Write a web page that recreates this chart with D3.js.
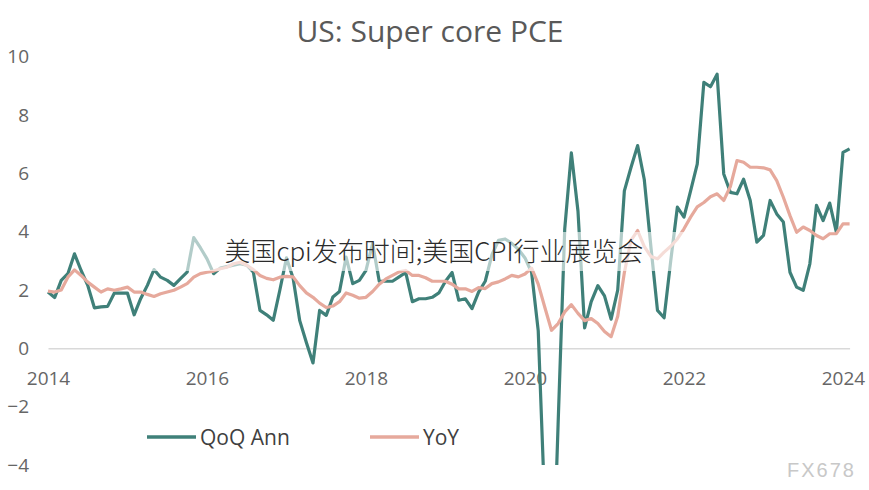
<!DOCTYPE html>
<html><head><meta charset="utf-8">
<script src="https://cdn.jsdelivr.net/npm/d3@7"></script>
<style>
html,body{margin:0;padding:0;background:#fff;}
svg{display:block;}
</style></head>
<body>
<svg id="chart" width="869" height="490"></svg>
<script>
// Monthly data, Jan 2014 .. Feb 2024
const startYear = 2014;
const qoqAnn = [
 1.93,1.74,2.33,2.56,3.24,2.67,2.16,1.39,1.42,1.44,1.89,1.89,
 1.89,1.15,1.71,2.16,2.70,2.44,2.33,2.16,2.39,2.61,3.80,3.45,
 3.07,2.56,2.75,2.80,2.85,2.90,2.85,2.61,1.30,1.15,0.96,2.00,
 3.10,2.40,0.95,0.20,-0.50,1.30,1.13,1.76,1.95,3.13,2.22,2.33,
 2.67,3.60,2.30,2.30,2.30,2.45,2.60,1.60,1.70,1.70,1.75,1.90,
 2.30,2.60,1.65,1.70,1.36,1.93,2.30,3.20,3.70,3.75,3.60,3.40,
 3.10,2.60,0.60,-5.50,-9.50,-2.60,4.10,6.70,4.70,0.70,1.60,2.15,
 1.80,1.00,2.00,5.40,6.20,6.95,5.80,3.50,1.30,1.05,3.00,4.84,
 4.50,5.40,6.32,9.12,8.97,9.40,5.98,5.35,5.30,5.80,5.07,3.64,
 3.87,5.07,4.61,4.33,2.61,2.10,1.99,2.90,4.90,4.38,4.98,3.98,
 6.72,6.84
];
const yoy = [
 1.96,1.93,2.00,2.44,2.69,2.50,2.27,2.10,1.93,2.04,1.99,2.04,
 2.10,1.93,1.93,1.85,1.78,1.87,1.93,1.99,2.10,2.22,2.44,2.56,
 2.61,2.65,2.73,2.78,2.90,2.95,2.85,2.70,2.50,2.40,2.35,2.44,
 2.47,2.45,2.15,1.90,1.75,1.55,1.40,1.45,1.60,1.90,1.82,1.72,
 1.75,1.95,2.20,2.38,2.50,2.62,2.67,2.50,2.50,2.42,2.30,2.30,
 2.30,2.20,2.04,2.04,1.95,2.08,2.05,2.22,2.28,2.38,2.50,2.45,
 2.55,2.75,2.20,1.40,0.62,0.85,1.25,1.50,1.20,0.95,1.02,0.85,
 0.58,0.40,1.10,2.60,3.70,4.04,3.50,3.15,3.07,3.30,3.50,3.75,
 4.10,4.50,4.85,5.00,5.20,5.30,5.07,5.55,6.44,6.38,6.21,6.21,
 6.19,6.12,5.75,5.18,4.55,3.98,4.16,4.04,3.87,3.76,3.93,3.93,
 4.27,4.27
];
const xTickYears = ["2014","2016","2018","2020","2022","2024"];
const yTickValues = [-4,-2,0,2,4,6,8,10];
const seriesNames = ["QoQ Ann","YoY"];
const titleText = "US: Super core PCE";
const watermarkText = "美国cpi发布时间;美国CPI行业展览会";
const brandText = "FX678";

const colors = {qoq:"#3f8079", yoy:"#e6a99c"};

const svg = d3.select("#chart");
const x = d3.scaleLinear().domain([0, qoqAnn.length - 1]).range([48, 849.6]);
const y = d3.scaleLinear().domain([-4, 10]).range([465, 56.7]);

svg.append("defs").append("clipPath").attr("id","plotclip")
  .append("rect").attr("x", 40).attr("y", y(10) - 5).attr("width", 820).attr("height", y(-4) - y(10) + 5);

// Title
svg.append("text").attr("x", 430).attr("y", 42).attr("text-anchor","middle")
  .attr("font-family","'Open Sans', sans-serif").attr("font-size", 30).attr("fill","#595959")
  .text(titleText);

// Y axis (labels only)
const yAxis = svg.append("g").attr("transform","translate(29,0)")
  .call(d3.axisLeft(y).tickValues(yTickValues).tickSize(0).tickPadding(0).tickFormat(d3.format("d")));
yAxis.select(".domain").remove();
yAxis.selectAll("text").attr("font-family","'Open Sans', sans-serif").attr("font-size", 19).attr("fill","#666");

// X axis at y=0
const xTickVals = xTickYears.map(d => (+d - startYear) * 12);
const xAxis = svg.append("g").attr("transform", `translate(0,${y(0)})`)
  .call(d3.axisBottom(x).tickValues(xTickVals).tickSize(0).tickSizeOuter(0).tickPadding(23)
        .tickFormat((d,i) => xTickYears[i]));
xAxis.select(".domain").attr("stroke","#d9d9d9").attr("stroke-width",1.5);
xAxis.selectAll("text").attr("font-family","'Open Sans', sans-serif").attr("font-size", 19).attr("fill","#666");

// Lines
const line = d3.line().x((d,i) => x(i)).y(d => y(d));
const plot = svg.append("g").attr("clip-path","url(#plotclip)");
plot.append("path").datum(qoqAnn).attr("d", line).attr("fill","none")
  .attr("stroke", colors.qoq).attr("stroke-width", 3.2).attr("stroke-linejoin","round");
plot.append("path").datum(yoy).attr("d", line).attr("fill","none")
  .attr("stroke", colors.yoy).attr("stroke-width", 3.2).attr("stroke-linejoin","round");

// Legend
const legend = [
  {name: seriesNames[0], color: colors.qoq, x0: 147},
  {name: seriesNames[1], color: colors.yoy, x0: 370}
];
const lg = svg.append("g");
legend.forEach(l => {
  lg.append("line").attr("x1", l.x0).attr("x2", l.x0 + 49).attr("y1", 437).attr("y2", 437)
    .attr("stroke", l.color).attr("stroke-width", 3.5);
  lg.append("text").attr("x", l.x0 + 53).attr("y", 444.5)
    .attr("font-family","'Open Sans', sans-serif").attr("font-size", 21).attr("fill","#404040")
    .text(l.name);
});

// Watermark overlay band + text
svg.append("rect").attr("x", 150).attr("y", 232).attr("width", 535).attr("height", 39)
  .attr("fill","#fff").attr("opacity", 0.6);
svg.append("text").attr("x", 434).attr("y", 261).attr("text-anchor","middle")
  .attr("font-family","'Noto Sans CJK SC', sans-serif").attr("font-weight", 300)
  .attr("font-size", 26).attr("fill","#2b2b2b").text(watermarkText);

// Brand mark
svg.append("text").attr("x", 856).attr("y", 477).attr("text-anchor","end")
  .attr("font-family","'Liberation Sans', Arial, sans-serif").attr("font-size", 20)
  .attr("letter-spacing", 2).attr("fill","#c8c8c8").text(brandText);
</script>
</body></html>
